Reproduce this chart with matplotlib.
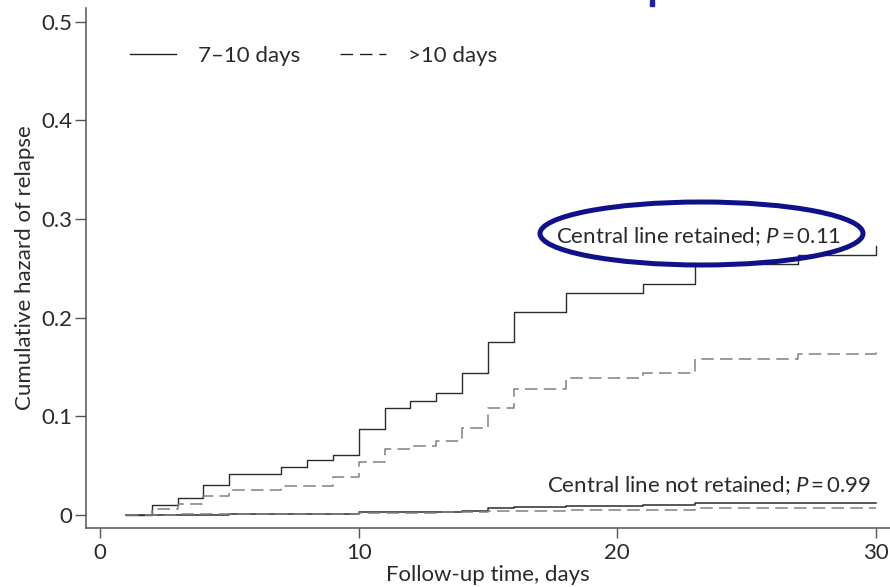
import matplotlib
matplotlib.use("Agg")
import matplotlib.pyplot as plt
from matplotlib.lines import Line2D
from matplotlib.patches import Ellipse, Rectangle

plt.rcParams['font.family'] = ['Lato', 'DejaVu Sans']
plt.rcParams['mathtext.fontset'] = 'custom'
plt.rcParams['mathtext.rm'] = 'Lato'
plt.rcParams['mathtext.it'] = 'Lato:italic'
plt.rcParams['lines.scale_dashes'] = False

# Cumulative hazard of relapse, central line retained
ret_short_t = [1, 2, 3, 4, 5, 7, 8, 9, 10, 11, 12, 13, 14, 15, 16, 18, 21, 23, 27, 30]
ret_short_v = [0, 0.010, 0.017, 0.030, 0.041, 0.048, 0.056, 0.061, 0.087, 0.108,
               0.115, 0.123, 0.144, 0.175, 0.206, 0.225, 0.234, 0.254, 0.263, 0.273]
ret_long_t = [1, 2, 3, 4, 5, 7, 9, 10, 11, 12, 13, 14, 15, 16, 18, 21, 23, 27, 30]
ret_long_v = [0, 0.006, 0.011, 0.019, 0.025, 0.029, 0.038, 0.054, 0.067, 0.070,
              0.075, 0.088, 0.108, 0.128, 0.139, 0.144, 0.158, 0.163, 0.169]

# Cumulative hazard of relapse, central line not retained
nret_short_t = [1, 5, 10, 14, 15, 16, 18, 21, 23, 30]
nret_short_v = [0, 0.001, 0.003, 0.004, 0.007, 0.008, 0.009, 0.010, 0.012, 0.012]
nret_long_t = [1, 3, 5, 10, 13, 15, 18, 23, 30]
nret_long_v = [0, 0.001, 0.001, 0.002, 0.003, 0.004, 0.005, 0.007, 0.007]

legend_labels = ['7\u201310 days', '>10 days']
x_ticks = [0, 10, 20, 30]
y_ticks = [0, 0.1, 0.2, 0.3, 0.4, 0.5]
y_tick_labels = ['0', '0.1', '0.2', '0.3', '0.4', '0.5']

W, H = 890, 587
FS = 16
TXT = '#2a2a2a'
fig = plt.figure(figsize=(W / 100, H / 100), dpi=100)
ax = fig.add_axes([86 / W, 59 / H, 804 / W, 520 / H])

solid_c = '#2b2b2b'
dash_c = '#808080'
dash_ls = (0, (9, 4.5))

ax.step(ret_short_t, ret_short_v, where='post', color=solid_c, lw=1.0)
ax.step(ret_long_t, ret_long_v, where='post', color=dash_c, lw=1.1, ls=dash_ls)
ax.step(nret_short_t, nret_short_v, where='post', color=solid_c, lw=1.1)
ax.step(nret_long_t, nret_long_v, where='post', color=dash_c, lw=1.1, ls=dash_ls)

ax.set_xlim(-0.541, 30.54)
ax.set_ylim(-0.0134, 0.5139)
ax.set_xticks(x_ticks)
ax.set_yticks(y_ticks)
ax.set_yticklabels(y_tick_labels)

for side in ('top', 'right'):
    ax.spines[side].set_visible(False)
for side in ('left', 'bottom'):
    ax.spines[side].set_color('#555555')
    ax.spines[side].set_linewidth(1.1)

ax.tick_params(axis='y', length=8, width=1.0, color='#555555', pad=2,
               labelsize=FS, labelcolor=TXT)
ax.tick_params(axis='x', length=7, width=1.0, color='#555555', pad=4,
               labelsize=FS, labelcolor=TXT)

fig.text(488 / W, 1 - 575 / H, 'Follow-up time, days', fontsize=FS, color=TXT,
         ha='center', va='center')
fig.text(25 / W, 1 - 268 / H, 'Cumulative hazard of relapse', fontsize=FS, color=TXT,
         ha='center', va='center', rotation=90)

handles = [Line2D([], [], color='#222222', lw=1.0),
           Line2D([], [], color='#222222', lw=1.0, ls=(0, (9, 5)))]
fig.legend(handles, legend_labels, loc='center left', ncol=2, frameon=False,
           bbox_to_anchor=(130 / W, 1 - 56 / H), bbox_transform=fig.transFigure,
           fontsize=FS, handlelength=2.05, handletextpad=1.0, columnspacing=1.8,
           borderpad=0, borderaxespad=0, labelcolor=TXT)

ax.text(28.67, 0.282, 'Central line retained; $P$\u2009=\u20090.11', ha='right', va='center',
        fontsize=FS, color=TXT)
ax.text(29.83, 0.0294, 'Central line not retained; $P$\u2009=\u20090.99', ha='right',
        va='center', fontsize=FS, color=TXT)

ring = Ellipse((701.5 / W, 1 - 233.5 / H), 323 / W, 63 / H, transform=fig.transFigure,
               fill=False, ec='#10108a', lw=3.6, zorder=10)
fig.add_artist(ring)
mark = Rectangle((650 / W, 1 - 6 / H), 4 / W, 6 / H, transform=fig.transFigure,
                 color='#2020a0', zorder=10)
fig.add_artist(mark)

fig.savefig('out.png', dpi=100)
